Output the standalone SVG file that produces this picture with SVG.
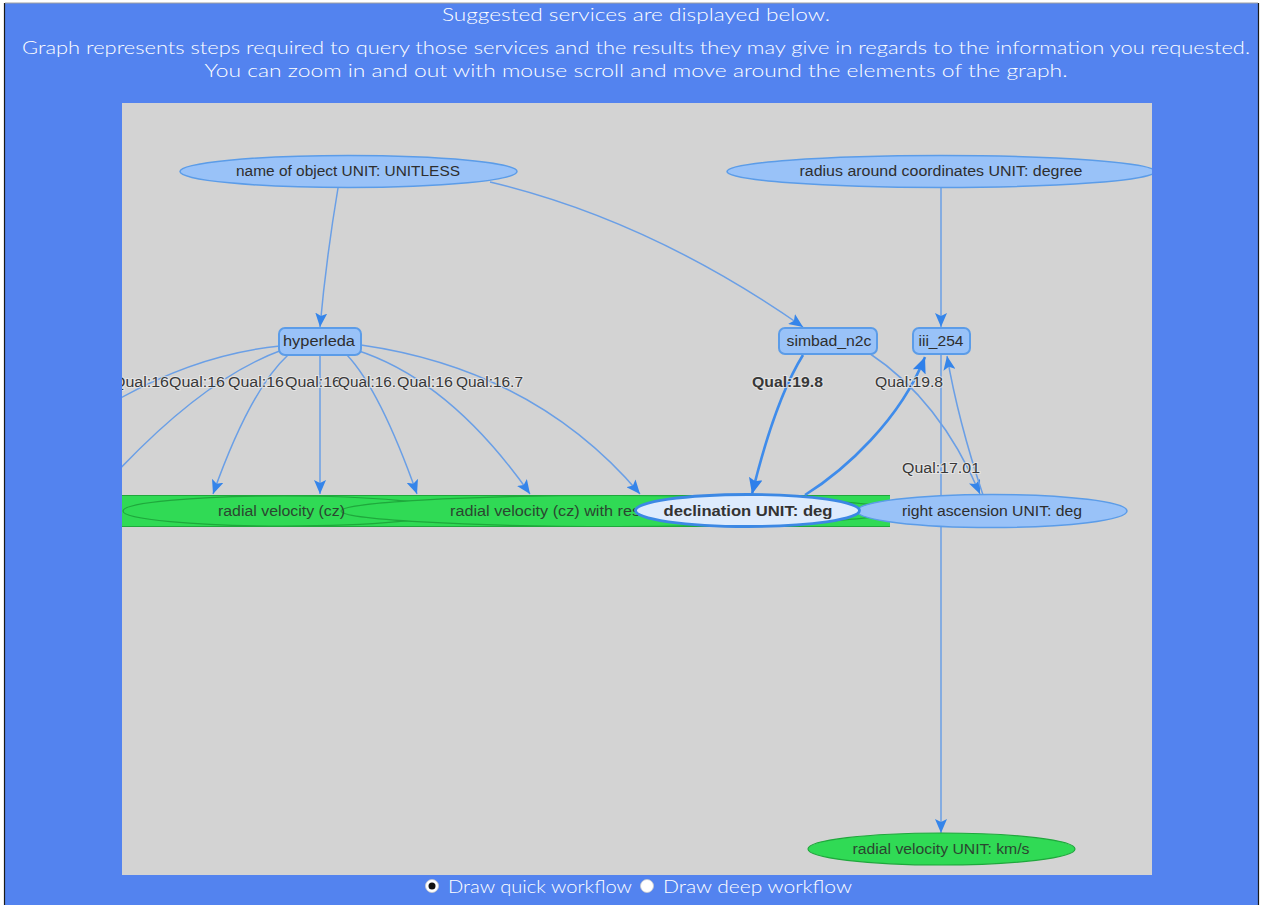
<svg xmlns="http://www.w3.org/2000/svg" width="1263" height="905" viewBox="0 0 1263 905">
  <defs>
    <style>
      .page-text { font-family: Lato, "Open Sans", "Liberation Sans", sans-serif; font-weight: 300; fill: #ffffff; font-size: 17px; text-anchor: middle; }
      .radio-text { font-family: Lato, "Open Sans", "Liberation Sans", sans-serif; font-weight: 300; fill: #ffffff; font-size: 17px; }
      .param { fill: #99C2F8; stroke: #5B9CE8; stroke-width: 1.5; }
      .svc { fill: #99C2F8; stroke: #5B9CE8; stroke-width: 2; }
      .out { fill: #30DA55; stroke: #1FA83C; stroke-width: 1.2; }
      .sel { fill: #DDEBFD; stroke: #3C88E4; stroke-width: 2.8; }
      .lbl { font-family: "Liberation Sans", Arial, sans-serif; font-size: 14px; fill: #2e2e2e; text-anchor: middle; }
      .lbl-out { font-family: "Liberation Sans", Arial, sans-serif; font-size: 14px; fill: #2b4630; }
      .lbl-sel { font-family: "Liberation Sans", Arial, sans-serif; font-size: 14px; font-weight: bold; fill: #333333; text-anchor: middle; }
      .edge { fill: none; stroke: #6A9FE6; stroke-width: 1.5; }
      .hot { fill: none; stroke: #3F8CEB; stroke-width: 2.6; }
      .qual { font-family: "Liberation Sans", Arial, sans-serif; font-size: 14px; fill: #383838; stroke: #ececec; stroke-width: 2; stroke-opacity: 0.7; paint-order: stroke; }
    </style>
    <marker id="arr" viewBox="0 0 14 12" refX="14" refY="6" markerWidth="14" markerHeight="12" markerUnits="userSpaceOnUse" orient="auto">
      <path d="M0,0 L14,6 L0,12 L3,6 z" fill="#3585EA"/>
    </marker>
    <marker id="arrHot" viewBox="0 0 16 14" refX="16" refY="7" markerWidth="16" markerHeight="14" markerUnits="userSpaceOnUse" orient="auto">
      <path d="M0,0 L16,7 L0,14 L3,7 z" fill="#2F80EA"/>
    </marker>
    <clipPath id="panel">
      <rect x="122" y="103" width="1030" height="772"/>
    </clipPath>
  </defs>

  <!-- page -->
  <rect x="0" y="0" width="1263" height="905" fill="#ffffff"/>
  <rect x="5" y="3" width="1253" height="902" fill="#5383EF"/>
  <line x1="5" y1="3" x2="1258" y2="3" stroke="#a0a0a0" stroke-width="1"/>
  <line x1="4.5" y1="3" x2="4.5" y2="905" stroke="#1a1a1a" stroke-width="1.2"/>
  <line x1="1258.5" y1="3" x2="1258.5" y2="905" stroke="#1a1a1a" stroke-width="1.2"/>

  <g id="intro">
    <text class="page-text" x="636" y="21" textLength="388" lengthAdjust="spacingAndGlyphs">Suggested services are displayed below.</text>
    <text class="page-text" x="636" y="54" textLength="1228" lengthAdjust="spacingAndGlyphs">Graph represents steps required to query those services and the results they may give in regards to the information you requested.</text>
    <text class="page-text" x="636" y="77" textLength="863" lengthAdjust="spacingAndGlyphs">You can zoom in and out with mouse scroll and move around the elements of the graph.</text>
  </g>

  <!-- graph canvas -->
  <rect x="122" y="103" width="1030" height="772" fill="#D3D3D3"/>

  <g clip-path="url(#panel)">
    <!-- output bar of overlapping result ellipses -->
    <g id="results-bar">
      <rect x="110" y="495" width="780" height="32" fill="#30DA55"/>
      <line x1="110" y1="495.5" x2="890" y2="495.5" stroke="#1FA83C" stroke-width="1.2"/>
      <line x1="110" y1="526.5" x2="890" y2="526.5" stroke="#1FA83C" stroke-width="1.2"/>
      <ellipse class="out" cx="284" cy="511" rx="161" ry="15"/>
      <ellipse class="out" cx="618" cy="511" rx="277" ry="15.5"/>
      <text class="lbl-out" x="218" y="516" textLength="127" lengthAdjust="spacingAndGlyphs">radial velocity (cz)</text>
      <text class="lbl-out" x="450" y="516" textLength="190" lengthAdjust="spacingAndGlyphs">radial velocity (cz) with res</text>
    </g>

    <g id="connectors">
      <path class="edge" d="M338,188 Q326,260 320,327" marker-end="url(#arr)"/>
      <path class="edge" d="M490,182 Q650,220 803,327" marker-end="url(#arr)"/>
      <path class="edge" d="M941,188 L941,327" marker-end="url(#arr)"/>

      <path class="edge" d="M280,346 Q190,355 100,410"/>
      <path class="edge" d="M282,350 Q200,380 105,485"/>
      <path class="edge" d="M288,355 Q250,390 213,494" marker-end="url(#arr)"/>
      <path class="edge" d="M320,355 L320,494" marker-end="url(#arr)"/>
      <path class="edge" d="M347,355 Q380,390 417,494" marker-end="url(#arr)"/>
      <path class="edge" d="M356,350 Q450,380 530,494" marker-end="url(#arr)"/>
      <path class="edge" d="M361,345 Q535,370 640,494" marker-end="url(#arr)"/>

      <path class="hot" d="M803,355 Q775,400 752,494" marker-end="url(#arrHot)"/>
      <path class="hot" d="M805,495 C845,470 900,420 925,357" marker-end="url(#arrHot)"/>
      <path class="edge" d="M869,353 Q940,400 980,494" marker-end="url(#arr)"/>
      <path class="edge" d="M983,495 Q958,420 947,356" marker-end="url(#arr)"/>
      <path class="edge" d="M941,355 L941,833" marker-end="url(#arr)"/>

      <g id="edge-labels">
        <text class="qual" x="113" y="387" textLength="56" lengthAdjust="spacingAndGlyphs">Qual:16</text>
        <text class="qual" x="169" y="387" textLength="56" lengthAdjust="spacingAndGlyphs">Qual:16</text>
        <text class="qual" x="228" y="387" textLength="56" lengthAdjust="spacingAndGlyphs">Qual:16</text>
        <text class="qual" x="285" y="387" textLength="56" lengthAdjust="spacingAndGlyphs">Qual:16</text>
        <text class="qual" x="338" y="387" textLength="58" lengthAdjust="spacingAndGlyphs">Qual:16.</text>
        <text class="qual" x="397" y="387" textLength="56" lengthAdjust="spacingAndGlyphs">Qual:16</text>
        <text class="qual" x="456" y="387" textLength="67" lengthAdjust="spacingAndGlyphs">Qual:16.7</text>
        <text class="qual" x="752" y="387" textLength="71" lengthAdjust="spacingAndGlyphs" font-weight="bold">Qual:19.8</text>
        <text class="qual" x="875" y="387" textLength="68" lengthAdjust="spacingAndGlyphs">Qual:19.8</text>
        <text class="qual" x="902" y="473" textLength="78" lengthAdjust="spacingAndGlyphs">Qual:17.01</text>
      </g>
    </g>

    <g id="node-name-of-object">
      <ellipse class="param" cx="348.5" cy="171.5" rx="168.5" ry="16"/>
      <text class="lbl" x="348" y="176" textLength="224" lengthAdjust="spacingAndGlyphs">name of object UNIT: UNITLESS</text>
    </g>

    <g id="node-radius">
      <ellipse class="param" cx="941" cy="171.5" rx="214" ry="16"/>
      <text class="lbl" x="941" y="176" textLength="283" lengthAdjust="spacingAndGlyphs">radius around coordinates UNIT: degree</text>
    </g>

    <g id="node-hyperleda">
      <rect class="svc" x="279" y="328" width="82" height="27" rx="6"/>
      <text class="lbl" x="319" y="346" textLength="72" lengthAdjust="spacingAndGlyphs">hyperleda</text>
    </g>

    <g id="node-simbad_n2c">
      <rect class="svc" x="779" y="328" width="98" height="26" rx="6"/>
      <text class="lbl" x="829" y="346" textLength="85" lengthAdjust="spacingAndGlyphs">simbad_n2c</text>
    </g>

    <g id="node-iii_254">
      <rect class="svc" x="913" y="328" width="57" height="26" rx="6"/>
      <text class="lbl" x="941" y="346" textLength="45" lengthAdjust="spacingAndGlyphs">iii_254</text>
    </g>

    <g id="node-right-ascension">
      <ellipse class="param" cx="992" cy="511" rx="135" ry="16.5"/>
      <text class="lbl" x="992" y="516" textLength="180" lengthAdjust="spacingAndGlyphs">right ascension UNIT: deg</text>
    </g>

    <g id="node-declination">
      <ellipse class="sel" cx="747.5" cy="510.5" rx="112" ry="16"/>
      <text class="lbl-sel" x="748" y="516" textLength="169" lengthAdjust="spacingAndGlyphs">declination UNIT: deg</text>
    </g>

    <g id="node-radial-velocity">
      <ellipse class="out" cx="941.5" cy="849" rx="133.5" ry="16"/>
      <text class="lbl-out" x="941" y="854" text-anchor="middle" textLength="177" lengthAdjust="spacingAndGlyphs">radial velocity UNIT: km/s</text>
    </g>
  </g>

  <!-- workflow mode switch -->
  <g id="workflow-options">
    <circle cx="432" cy="886" r="6.5" fill="#ffffff" stroke="#cccccc" stroke-width="0.8"/>
    <circle cx="432" cy="886" r="3.5" fill="#111111"/>
    <text class="radio-text" x="448" y="893" textLength="184" lengthAdjust="spacingAndGlyphs">Draw quick workflow</text>
    <circle cx="647" cy="886" r="6.5" fill="#ffffff" stroke="#cccccc" stroke-width="0.8"/>
    <text class="radio-text" x="663" y="893" textLength="189" lengthAdjust="spacingAndGlyphs">Draw deep workflow</text>
  </g>
</svg>
